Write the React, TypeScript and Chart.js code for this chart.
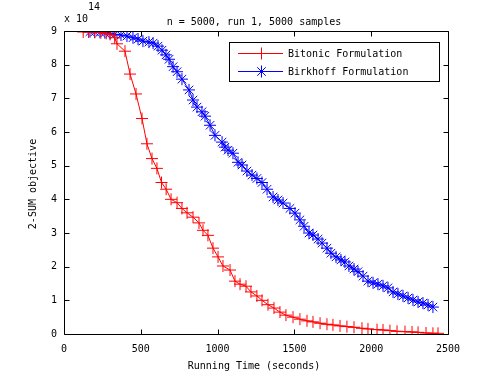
import React, { useEffect, useRef } from "react";
import { Chart, registerables } from "chart.js";

Chart.register(...registerables);

const titleText = "n = 5000, run 1, 5000 samples";
const xAxisLabel = "Running Time (seconds)";
const yAxisLabel = "2-SUM objective";
const exponentBase = "x 10";
const exponentPower = "14";
const seriesNames = ["Bitonic Formulation", "Birkhoff Formulation"];

const xTicks = [0, 500, 1000, 1500, 2000, 2500];
const yTicks = [0, 1, 2, 3, 4, 5, 6, 7, 8, 9];

const bitonicX = [125, 160, 200, 240, 275, 300, 330, 345, 397, 430, 469, 508, 540, 573, 605, 635, 665, 697, 736, 768, 801, 840, 879, 905, 937, 970, 1003, 1035, 1081, 1113, 1146, 1185, 1217, 1256, 1289, 1328, 1367, 1406, 1445, 1491, 1536, 1582, 1621, 1667, 1712, 1751, 1797, 1842, 1888, 1940, 1979, 2038, 2077, 2122, 2168, 2220, 2266, 2305, 2357, 2402, 2435];
const bitonicY = [8.97, 8.97, 8.96, 8.95, 8.93, 8.9, 8.8, 8.62, 8.4, 7.72, 7.13, 6.4, 5.65, 5.21, 4.92, 4.5, 4.3, 4.0, 3.9, 3.73, 3.6, 3.47, 3.3, 3.08, 2.93, 2.55, 2.29, 2.02, 1.9, 1.57, 1.48, 1.42, 1.25, 1.13, 1.0, 0.87, 0.77, 0.65, 0.56, 0.5, 0.44, 0.39, 0.36, 0.32, 0.29, 0.27, 0.24, 0.22, 0.2, 0.17, 0.15, 0.13, 0.12, 0.1, 0.08, 0.07, 0.06, 0.05, 0.03, 0.02, 0.02];

const birkhoffX = [169, 200, 234, 266, 299, 331, 371, 410, 449, 482, 514, 553, 580, 612, 638, 664, 684, 710, 736, 768, 814, 840, 866, 898, 918, 951, 983, 1029, 1048, 1068, 1100, 1133, 1159, 1191, 1224, 1256, 1289, 1322, 1361, 1393, 1426, 1471, 1504, 1536, 1563, 1595, 1621, 1654, 1680, 1712, 1738, 1771, 1803, 1829, 1855, 1888, 1914, 1947, 1979, 2012, 2044, 2077, 2109, 2142, 2174, 2207, 2240, 2272, 2305, 2337, 2370, 2402];
const birkhoffY = [8.98, 8.97, 8.96, 8.95, 8.93, 8.9, 8.88, 8.85, 8.8, 8.76, 8.7, 8.67, 8.64, 8.55, 8.43, 8.29, 8.16, 7.94, 7.79, 7.57, 7.25, 6.95, 6.74, 6.6, 6.47, 6.2, 5.9, 5.7, 5.55, 5.46, 5.37, 5.1, 5.02, 4.84, 4.72, 4.62, 4.5, 4.3, 4.07, 3.98, 3.89, 3.73, 3.59, 3.39, 3.2, 3.0, 2.94, 2.82, 2.7, 2.55, 2.4, 2.29, 2.2, 2.14, 2.02, 1.93, 1.85, 1.72, 1.57, 1.52, 1.48, 1.43, 1.37, 1.25, 1.19, 1.13, 1.07, 1.01, 0.95, 0.92, 0.86, 0.8];

const FONT = "'DejaVu Sans Mono', monospace";

const decorPlugin = {
  id: "matlabDecor",
  afterDraw(chart: any) {
    const ctx = chart.ctx;
    const { left, right, top, bottom } = chart.chartArea;
    const xs = chart.scales.x;
    const ys = chart.scales.y;
    const L = Math.round(left) + 0.5;
    const R = Math.round(right) + 0.5;
    const T = Math.round(top) + 0.5;
    const B = Math.round(bottom) + 0.5;
    ctx.save();
    ctx.strokeStyle = "#000";
    ctx.lineWidth = 1;
    ctx.beginPath();
    ctx.rect(L, T, R - L, B - T);
    const tl = 5;
    xTicks.forEach((v) => {
      const px = Math.round(xs.getPixelForValue(v)) + 0.5;
      ctx.moveTo(px, B);
      ctx.lineTo(px, B - tl);
      ctx.moveTo(px, T);
      ctx.lineTo(px, T + tl);
    });
    yTicks.forEach((v) => {
      const py = Math.round(ys.getPixelForValue(v)) + 0.5;
      ctx.moveTo(L, py);
      ctx.lineTo(L + tl, py);
      ctx.moveTo(R, py);
      ctx.lineTo(R - tl, py);
    });
    ctx.stroke();

    // texts
    ctx.fillStyle = "#000";
    ctx.font = `10px ${FONT}`;
    ctx.textAlign = "center";
    ctx.textBaseline = "middle";
    ctx.fillText(titleText, 254, 22);
    ctx.fillText(xAxisLabel, 254, 366);
    ctx.save();
    ctx.translate(33, 184);
    ctx.rotate(-Math.PI / 2);
    ctx.fillText(yAxisLabel, 0, 0);
    ctx.restore();
    ctx.textAlign = "left";
    ctx.fillText(exponentBase, 64, 19);
    ctx.fillText(exponentPower, 88, 7);

    // legend
    const bx = 229.5, by = 42.5, bw = 210, bh = 39;
    ctx.fillStyle = "#fff";
    ctx.fillRect(bx, by, bw, bh);
    ctx.strokeStyle = "#000";
    ctx.strokeRect(bx, by, bw, bh);
    const rows = [
      { y: 53, color: "#ff0000", star: false },
      { y: 71, color: "#0000ff", star: true },
    ];
    rows.forEach((r, i) => {
      const yy = r.y + 0.5;
      ctx.strokeStyle = r.color;
      ctx.beginPath();
      ctx.moveTo(238, yy);
      ctx.lineTo(283, yy);
      const cx = 261.5;
      const rad = 6;
      ctx.moveTo(cx - rad, yy);
      ctx.lineTo(cx + rad, yy);
      ctx.moveTo(cx, yy - rad);
      ctx.lineTo(cx, yy + rad);
      if (r.star) {
        const d = rad * 0.7071;
        ctx.moveTo(cx - d, yy - d);
        ctx.lineTo(cx + d, yy + d);
        ctx.moveTo(cx - d, yy + d);
        ctx.lineTo(cx + d, yy - d);
      }
      ctx.stroke();
      ctx.fillStyle = "#000";
      ctx.textAlign = "left";
      ctx.textBaseline = "middle";
      ctx.fillText(seriesNames[i], 288, r.y + 1);
    });
    ctx.restore();
  },
};

export default function App() {
  const ref = useRef<HTMLCanvasElement | null>(null);
  useEffect(() => {
    if (!ref.current) return;
    const chart = new Chart(ref.current, {
      type: "scatter",
      data: {
        datasets: [
          {
            label: seriesNames[0],
            data: bitonicX.map((x, i) => ({ x, y: bitonicY[i] })),
            showLine: true,
            borderColor: "#ff0000",
            backgroundColor: "#ff0000",
            borderWidth: 1,
            pointStyle: "cross",
            pointRadius: 6,
            pointBorderWidth: 1,
            pointBorderColor: "#ff0000",
          },
          {
            label: seriesNames[1],
            data: birkhoffX.map((x, i) => ({ x, y: birkhoffY[i] })),
            showLine: true,
            borderColor: "#0000ff",
            backgroundColor: "#0000ff",
            borderWidth: 1,
            pointStyle: "star",
            pointRadius: 6,
            pointBorderWidth: 1,
            pointBorderColor: "#0000ff",
          },
        ],
      },
      options: {
        responsive: false,
        animation: false,
        events: [],
        layout: { padding: { top: 31, right: 47, left: 0, bottom: 0 } },
        plugins: {
          legend: { display: false },
          title: { display: false },
          tooltip: { enabled: false },
        },
        scales: {
          x: {
            type: "linear",
            min: 0,
            max: 2500,
            afterBuildTicks: (s: any) => {
              s.ticks = xTicks.map((v) => ({ value: v }));
            },
            afterFit: (s: any) => {
              s.height = 41;
            },
            grid: { display: false, drawTicks: false },
            border: { display: false },
            ticks: {
              color: "#000",
              font: { family: FONT, size: 10 },
              padding: 9,
              maxRotation: 0,
              callback: (v: any) => String(v),
            },
          },
          y: {
            type: "linear",
            min: 0,
            max: 9,
            afterBuildTicks: (s: any) => {
              s.ticks = yTicks.map((v) => ({ value: v }));
            },
            afterFit: (s: any) => {
              s.width = 64;
            },
            grid: { display: false, drawTicks: false },
            border: { display: false },
            ticks: {
              color: "#000",
              font: { family: FONT, size: 10 },
              padding: 7,
              callback: (v: any) => String(v),
            },
          },
        },
      },
      plugins: [decorPlugin],
    });
    return () => chart.destroy();
  }, []);
  return (
    <div style={{ position: "fixed", left: 0, top: 0, width: 495, height: 375, background: "#fff" }}>
      <canvas ref={ref} width={495} height={375} />
    </div>
  );
}
